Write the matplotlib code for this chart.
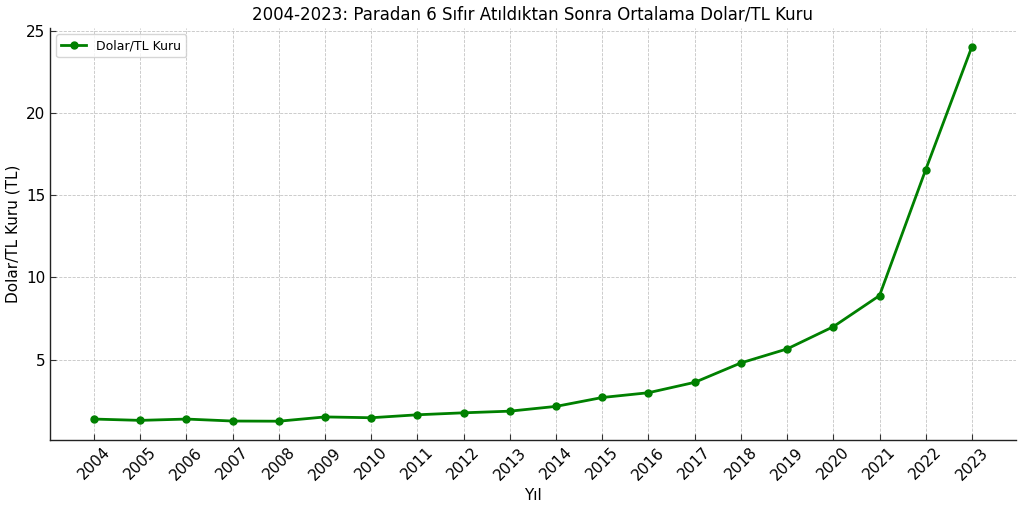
import matplotlib
matplotlib.use('Agg')
import matplotlib.pyplot as plt

# Yillik ortalama Dolar/TL kuru
years = [2004, 2005, 2006, 2007, 2008, 2009, 2010, 2011, 2012, 2013,
         2014, 2015, 2016, 2017, 2018, 2019, 2020, 2021, 2022, 2023]
rates = [1.40, 1.32, 1.40, 1.28, 1.27, 1.53, 1.48, 1.66, 1.78, 1.88,
         2.17, 2.71, 3.00, 3.63, 4.81, 5.66, 7.01, 8.90, 16.55, 24.02]
year_labels = [str(y) for y in years]

fig, ax = plt.subplots(figsize=(10.24, 5.08), dpi=100)
ax.plot(years, rates, color='green', marker='o', markersize=5, linewidth=2,
        label='Dolar/TL Kuru')

ax.set_title('2004-2023: Paradan 6 Sıfır Atıldıktan Sonra Ortalama Dolar/TL Kuru', fontsize=12)
ax.set_xlabel('Yıl', fontsize=11)
ax.set_ylabel('Dolar/TL Kuru (TL)', fontsize=11)
ax.set_xticks(years)
ax.set_xticklabels(year_labels, rotation=45, fontsize=11)
ax.set_yticks([5, 10, 15, 20, 25])
ax.tick_params(axis='both', direction='in', length=4, labelsize=11, color='#333333')
ax.grid(True, linestyle='--', color='#c4c4c4', linewidth=0.6)
ax.spines['top'].set_visible(False)
ax.spines['right'].set_visible(False)
for side in ('left', 'bottom'):
    ax.spines[side].set_color('#222222')
    ax.spines[side].set_linewidth(1.0)
ax.legend(loc='upper left', fontsize=9)

fig.subplots_adjust(left=0.049, right=0.992, top=0.945, bottom=0.134)
fig.savefig('out.png', dpi=100)
